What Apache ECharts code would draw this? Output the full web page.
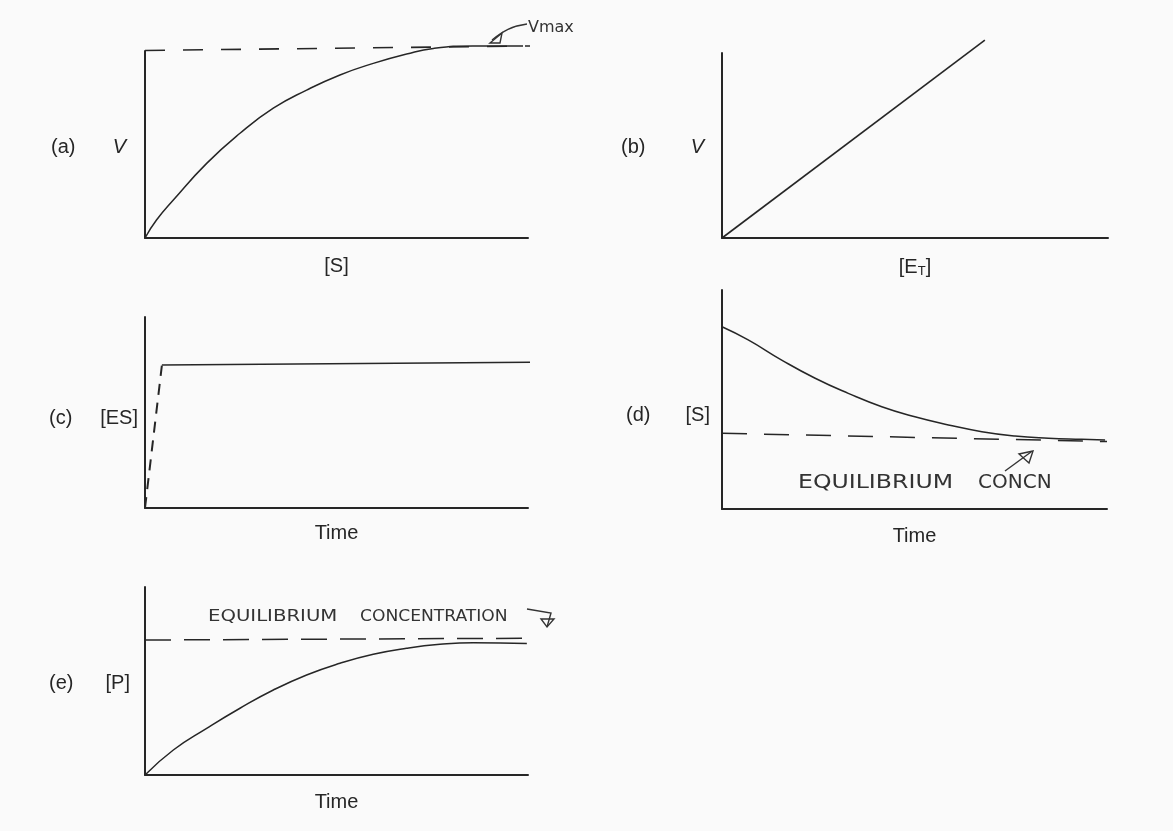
<!DOCTYPE html>
<html>
<head>
<meta charset="utf-8">
<script src="https://cdn.jsdelivr.net/npm/echarts@6/dist/echarts.min.js"></script>
<style>
html, body { margin: 0; padding: 0; background: #fafafa; }
#chart { width: 1173px; height: 831px; }
</style>
</head>
<body>
<div id="chart"></div>
<script>
// ---- curve readings, each panel on a 0..100 relative scale ----
// (a) initial velocity against substrate concentration
const rateVsSubstrate = [[0,0],[3.0,9.6],[7.4,20.3],[16.1,39.9],[24.8,56.0],[33.5,69.4],[42.2,79.1],[50.9,87.2],[59.6,93.4],[68.3,98.4],[75.3,101.4],[85.6,102.7],[98.7,102.7]];
const vmaxLevel = [[0,100.3],[114,103]];
// (b) velocity against total enzyme concentration
const rateVsEnzyme = [[0,0],[68.1,107]];
// (c) enzyme-substrate complex over time
const esPreSteady = [[0,0],[4.4,74.5]];
const esSteadyState = [[4.4,74.9],[106,76.4]];
// (d) substrate over time
const substrateCurve = [[0,83.2],[6.8,77.2],[15.5,68.0],[24.2,59.7],[32.8,52.8],[41.5,46.7],[50.1,42.1],[58.8,38.4],[67.5,35.3],[76.1,33.3],[84.8,32.3],[93.4,31.8],[99.5,31.5]];
const substrateEquilibrium = [[0,34.6],[100,30.8]];
// (e) product over time
const productCurve = [[0,0],[7.4,13.3],[16.1,24.8],[24.8,35.5],[33.5,45.2],[42.2,53.2],[50.9,59.4],[59.6,64.2],[68.3,67.4],[77.0,69.5],[85.7,70.4],[99.7,70.0]];
const productEquilibrium = [[0,71.8],[115.9,72.9]];

// axis titles
const panelTags = ['(a)', '(b)', '(c)', '(d)', '(e)'];
const xTitles = ['[S]', '[E{sub|T}]', 'Time', 'Time', 'Time'];
const yTitles = ['{it|V}', '{it|V}', '[ES]', '[S]', '[P]'];

const INK = '#262626';
const FONT = 'Liberation Sans, Arial, sans-serif';
const HAND = 'DejaVu Sans, sans-serif';
const LABEL_SIZE = 20;

const grids = [
  { left: 145, top: 51, width: 383, height: 187 },
  { left: 722, top: 53, width: 386, height: 185 },
  { left: 145, top: 317, width: 383, height: 191 },
  { left: 722, top: 290, width: 385, height: 219 },
  { left: 145, top: 587, width: 383, height: 188 }
];
const yNameGap = [19, 18, 7, 12, 15];
const yNameShift = [5, 3, 11, 31, 4];
const xNameGap = [18, 18, 15, 17, 17];
const tagPos = [[51,147],[621,147],[49,418],[626,415],[49,683]];

const richStyles = {
  it: { fontStyle: 'italic', fontSize: LABEL_SIZE, fontFamily: FONT, color: INK },
  sub: { fontSize: 13, fontFamily: FONT, color: INK, padding: [9, 0, 0, 0] }
};

const xAxes = grids.map((g, i) => ({
  type: 'value', gridIndex: i, min: 0, max: 100,
  axisLine: { show: true, onZero: false, lineStyle: { color: INK, width: 2 } },
  axisTick: { show: false }, axisLabel: { show: false }, splitLine: { show: false },
  name: xTitles[i], nameLocation: 'middle', nameGap: xNameGap[i],
  nameTextStyle: { fontFamily: FONT, fontSize: LABEL_SIZE, color: INK, rich: richStyles }
}));
const yAxes = grids.map((g, i) => ({
  type: 'value', gridIndex: i, min: 0, max: 100,
  axisLine: { show: true, onZero: false, lineStyle: { color: INK, width: 2 } },
  axisTick: { show: false }, axisLabel: { show: false }, splitLine: { show: false },
  name: yTitles[i], nameLocation: 'middle', nameRotate: 0, nameGap: yNameGap[i],
  nameTextStyle: { fontFamily: FONT, fontSize: LABEL_SIZE, color: INK, rich: richStyles,
                   padding: [yNameShift[i], 0, 0, 0] }
}));

function curve(idx, data, opts) {
  opts = opts || {};
  return {
    type: 'line', xAxisIndex: idx, yAxisIndex: idx, data: data,
    showSymbol: false, symbol: 'none', clip: false, silent: true,
    smooth: opts.smooth || false,
    lineStyle: { color: INK, width: opts.width || 1.5, type: opts.dash || 'solid' }
  };
}

const series = [
  curve(0, rateVsSubstrate, { smooth: 0.5 }),
  curve(0, vmaxLevel, { dash: [20, 18], width: 1.6 }),
  curve(1, rateVsEnzyme, { width: 1.6 }),
  curve(2, esPreSteady, { dash: [11, 8], width: 2 }),
  curve(2, esSteadyState, { width: 1.6 }),
  curve(3, substrateCurve, { smooth: 0.5 }),
  curve(3, substrateEquilibrium, { dash: [25, 17], width: 1.5 }),
  curve(4, productCurve, { smooth: 0.5 }),
  curve(4, productEquilibrium, { dash: [26, 13], width: 1.5 })
];

// panel tags and pen annotations
const graphics = panelTags.map((t, i) => ({
  type: 'text', x: tagPos[i][0], y: tagPos[i][1],
  style: { text: t, font: LABEL_SIZE + 'px ' + FONT, fill: INK, textAlign: 'left', textVerticalAlign: 'middle' }
}));

function hand(text, x, y, size, sx) {
  return { type: 'text', x: x, y: y, scaleX: sx,
    style: { text: text, font: size + 'px ' + HAND, fill: '#333', textAlign: 'left', textVerticalAlign: 'middle' } };
}
const pen = { stroke: '#333', lineWidth: 1.4, fill: null };

graphics.push(
  hand('Vmax', 528, 28, 16, 1.0),
  { type: 'bezierCurve', shape: { x1: 527, y1: 24, cpx1: 512, cpy1: 26, cpx2: 503, cpy2: 31, x2: 492, y2: 40 }, style: pen },
  { type: 'polygon', shape: { points: [[490, 43], [502, 33], [500, 43]] }, style: pen },

  hand('EQUILIBRIUM', 798, 483, 20, 1.18),
  hand('CONCN', 978, 483, 20, 1.0),
  { type: 'line', shape: { x1: 1005, y1: 471, x2: 1031, y2: 452 }, style: pen },
  { type: 'polygon', shape: { points: [[1033, 451], [1019, 454], [1029, 463]] }, style: pen },

  hand('EQUILIBRIUM', 208, 617, 16, 1.23),
  hand('CONCENTRATION', 360, 617, 16, 1.07),
  { type: 'polyline', shape: { points: [[527, 609], [551, 613], [547, 627]] }, style: pen },
  { type: 'polygon', shape: { points: [[541, 619], [554, 619], [547, 627]] }, style: pen }
);

const chart = echarts.init(document.getElementById('chart'), null, { renderer: 'canvas' });
chart.setOption({
  animation: false,
  backgroundColor: '#fafafa',
  grid: grids,
  xAxis: xAxes,
  yAxis: yAxes,
  series: series,
  graphic: graphics
});
</script>
</body>
</html>
